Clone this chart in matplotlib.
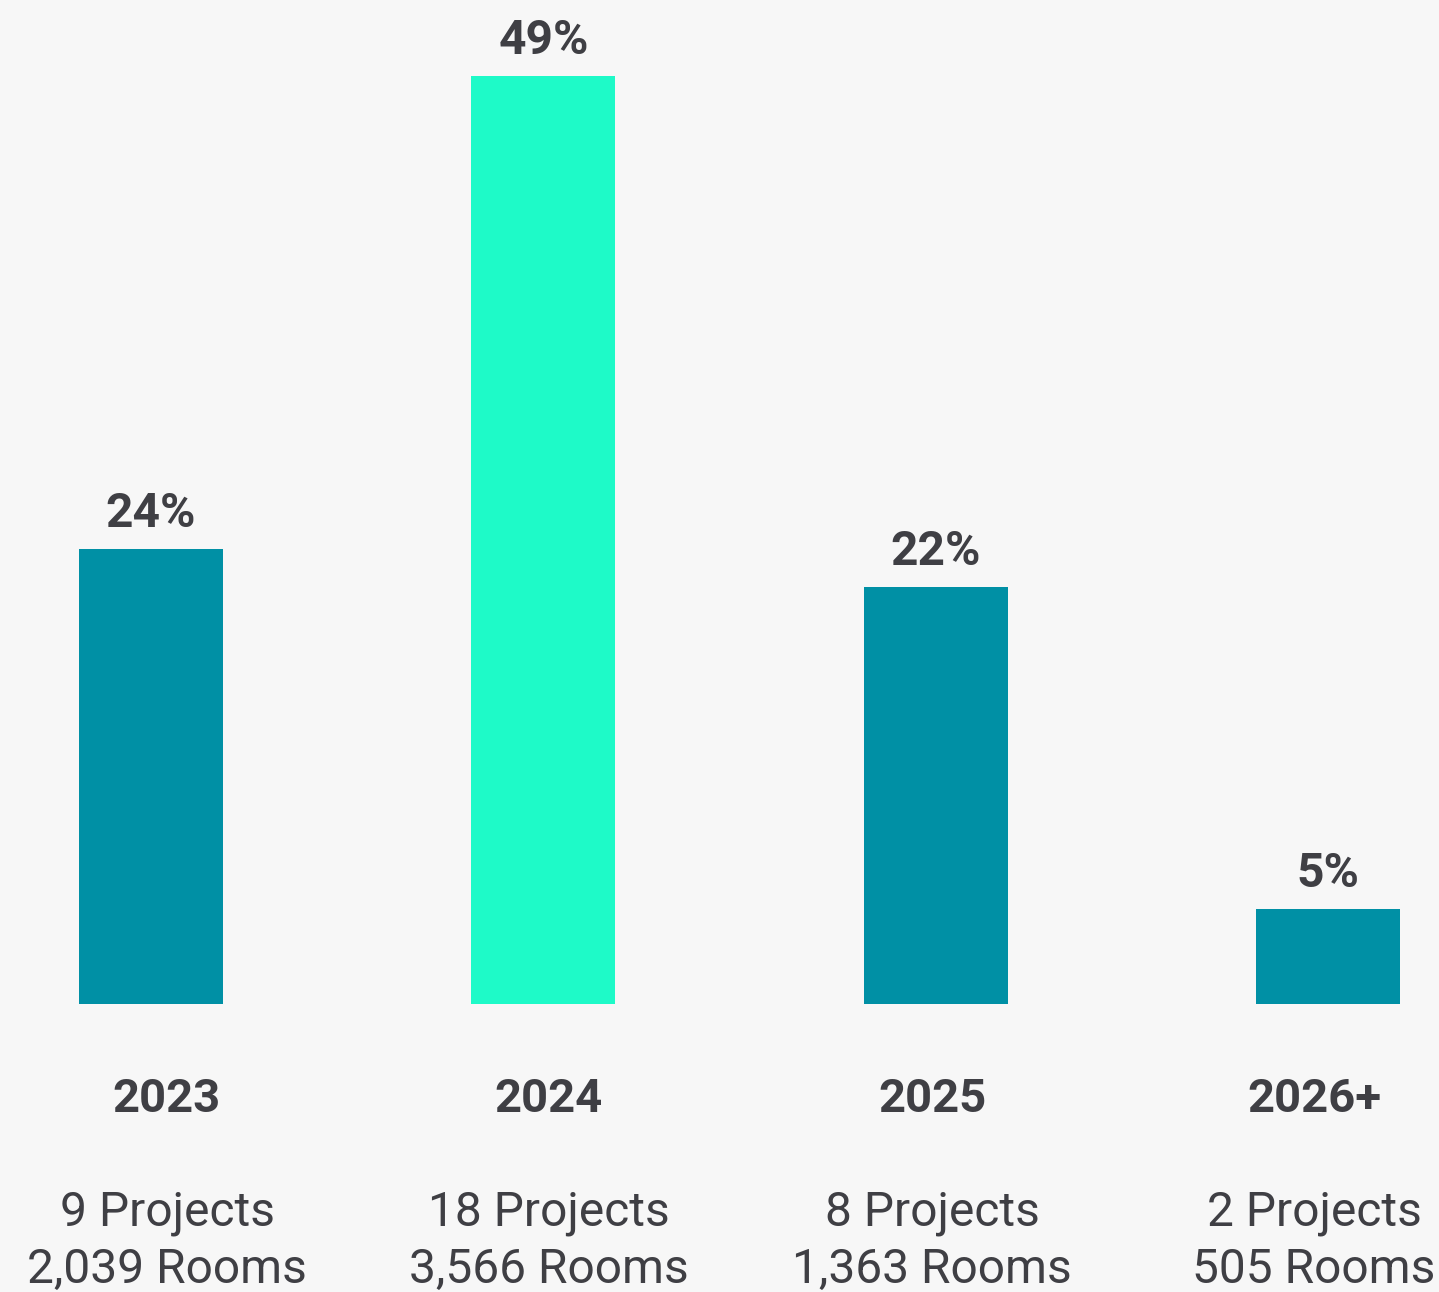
import matplotlib
matplotlib.use("Agg")
import matplotlib.pyplot as plt
import numpy as np

# data
years = ['2023', '2024', '2025', '2026+']
shares = [24, 49, 22, 5]
projects = [9, 18, 8, 2]
rooms = [2039, 3566, 1363, 505]
highlight = '2024'

# style
BG = '#f7f7f7'
TEAL = '#0090a5'
MINT = '#1efac8'
TXT = '#3f3f44'
plt.rcParams['font.family'] = ['Roboto', 'DejaVu Sans']

W, H = 1439, 1292
fig = plt.figure(figsize=(W / 100, H / 100), dpi=100, facecolor=BG)

# axes spans full width, baseline at y=1004 px from top
base_px = 1004
ax = fig.add_axes([0, (H - base_px) / H, 1, base_px / H])
ax.set_facecolor(BG)

step = 392.33
first = 151
x = np.arange(len(years))
ax.set_xlim(-first / step, (W - first) / step)
ax.set_ylim(0, base_px / 18.94)

colors = [MINT if y == highlight else TEAL for y in years]
bars = ax.bar(x, shares, width=144 / step, color=colors)

for xi, v in zip(x, shares):
    ax.annotate('{}%'.format(v), (xi, v), xytext=(0, 15.8),
                textcoords='offset points', ha='center', va='baseline',
                fontsize=34.5, fontweight='bold', color=TXT)

for s in ax.spines.values():
    s.set_visible(False)
ax.set_xticks([])
ax.set_yticks([])

# category labels below the bars
label_x = [167, 549, 932, 1314]
for lx, yr, p, r in zip(label_x, years, projects, rooms):
    fx = lx / W
    fig.text(fx, (H - 1112) / H, yr, ha='center', va='baseline',
             fontsize=34, fontweight='bold', color=TXT)
    fig.text(fx, (H - 1226) / H, '{} Projects'.format(p), ha='center',
             va='baseline', fontsize=34.5, color=TXT)
    fig.text(fx, (H - 1283) / H, '{:,} Rooms'.format(r), ha='center',
             va='baseline', fontsize=34.5, color=TXT)

fig.savefig('out.png', dpi=100, facecolor=BG)
